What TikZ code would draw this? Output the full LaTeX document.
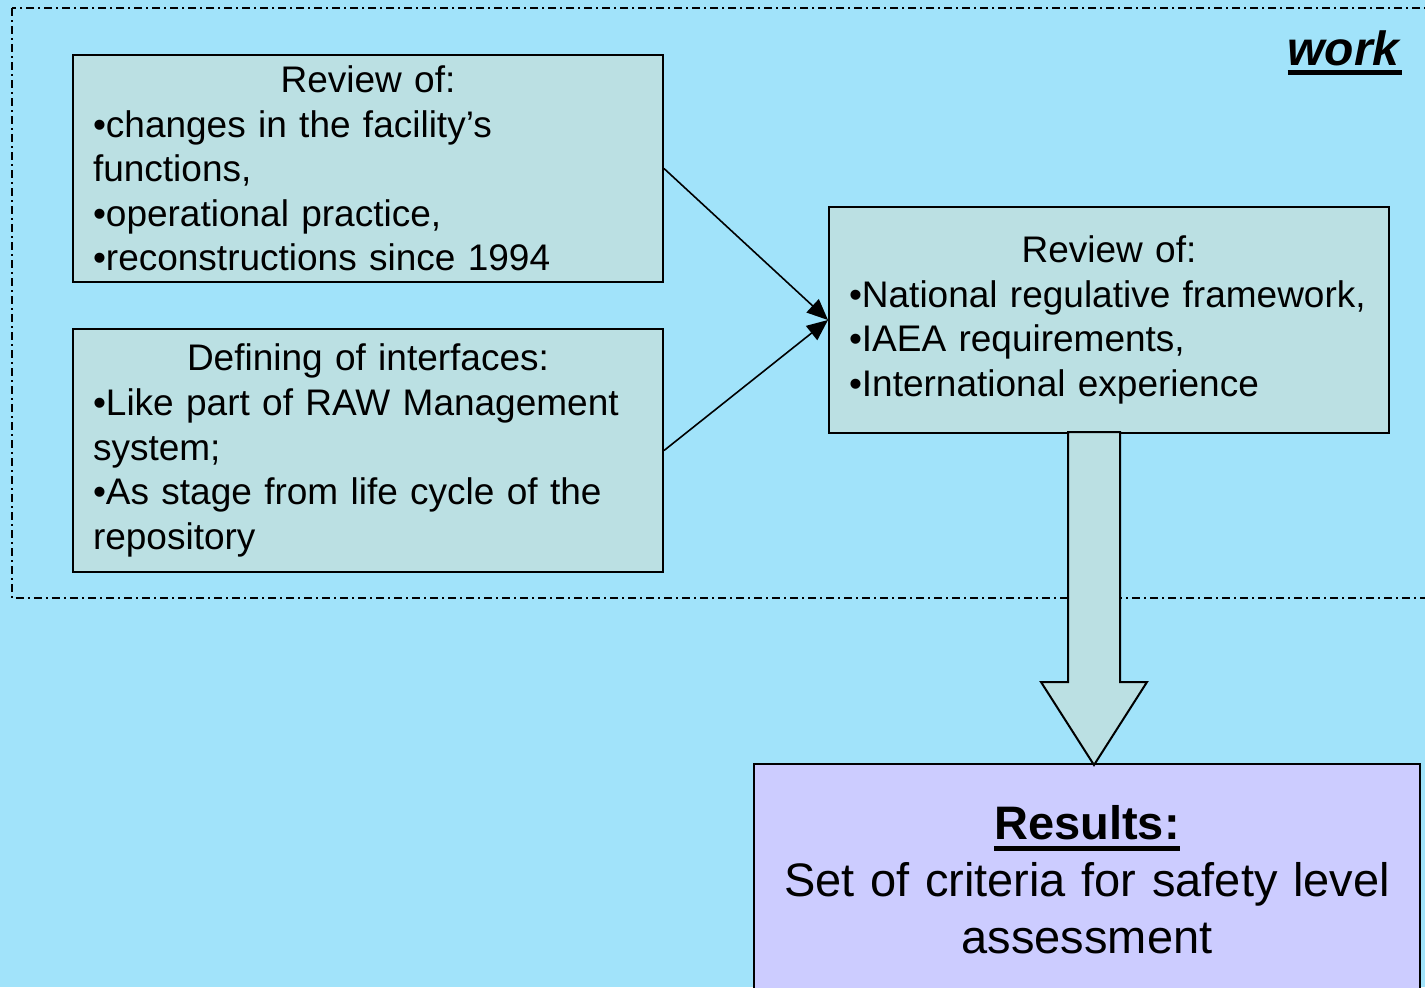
\documentclass[tikz,border=0pt]{standalone}
\usepackage{fontspec}
\setmainfont{Liberation Sans}
\usepackage{tikz}
\usetikzlibrary{calc,backgrounds}
\usetikzlibrary{arrows.meta}
\usetikzlibrary{positioning}
\definecolor{skyback}{HTML}{A1E3FA}
\definecolor{boxfill}{HTML}{BBE0E3}
\definecolor{resultfill}{HTML}{CCCCFF}
\tikzstyle{review}=[
  draw, line width=1pt, fill=boxfill, inner xsep=10pt, inner ysep=0pt,
  align=left, font=\fontsize{18.5}{22.3}\selectfont
]
\tikzstyle{result}=[
  draw, line width=1pt, fill=resultfill, inner xsep=5pt, inner ysep=0pt,
  align=center, font=\fontsize{23.5}{28.5}\selectfont
]
\tikzstyle{frame}=[
  line width=0.75pt, dash pattern=on 4pt off 2pt on 1pt off 2pt
]
\tikzstyle{feed}=[
  line width=0.8pt, -{Triangle[length=10.5pt,width=9pt]}
]
\tikzstyle{bigarrow}=[
  draw, line width=1pt, fill=boxfill, line join=miter
]
\newcommand{\heavyul}[3]{\leavevmode\setbox0=\hbox{#3}\rlap{\rule[-#1]{\wd0}{#2}}\box0}
\newcommand{\headline}[1]{\makebox[\hsize]{#1}}

\begin{document}
\begin{tikzpicture}[x=0.5pt,y=-0.5pt]
          \def\gap{22.5pt}
            \useasboundingbox (0,0) rectangle (1425,987);
            \clip (0,0) rectangle (1425,987);
            \node (reva) at (368, 168.5) [review, text width=275pt, minimum height=113.5pt]
              {\headline{Review of:}\\
               •changes in the facility’s\\
               functions,\\
               •operational practice,\\
               •reconstructions since 1994};
            \node (defs) [review, text width=275pt, minimum height=121.5pt, below=\gap of reva]
              {\headline{Defining of interfaces:}\\
               •Like part of RAW Management\\
               system;\\
               •As stage from life cycle of the\\
               repository};
            \node (revb) at (1109, 320) [review, text width=260pt, minimum height=113pt]
              {\headline{Review of:}\\
               •National regulative framework,\\
               •IAEA requirements,\\
               •International experience};
            \node (res) at (1087, 880) [result, text width=323pt, minimum height=116pt]
              {\heavyul{5.5pt}{2.2pt}{\textbf{Results:}}\\
               Set of criteria for safety level\\
               assessment};
            \node (work) at (1402, 65) [anchor=base east, inner sep=0pt, font=\fontsize{24}{28}\selectfont]
              {\heavyul{5pt}{2.5pt}{\textbf{\textit{work}}}};

            \begin{scope}[on background layer]
              \fill [skyback] (0,0) rectangle (1425,987);
              \draw [frame] (12,8) rectangle (1440,598);
              \draw [feed] (reva.east) -- (revb.west);
              \draw [feed] (defs.east) -- (revb.west);
            \end{scope}

            % block arrow down to the results
            \coordinate (tip) at (1094, 765);
            \path [bigarrow] (1068,432) -- (1068,682) -- (1041,682) -- (tip)
              -- (1147,682) -- (1120,682) -- (1120,432) -- cycle;
        \end{tikzpicture}
\end{document}
